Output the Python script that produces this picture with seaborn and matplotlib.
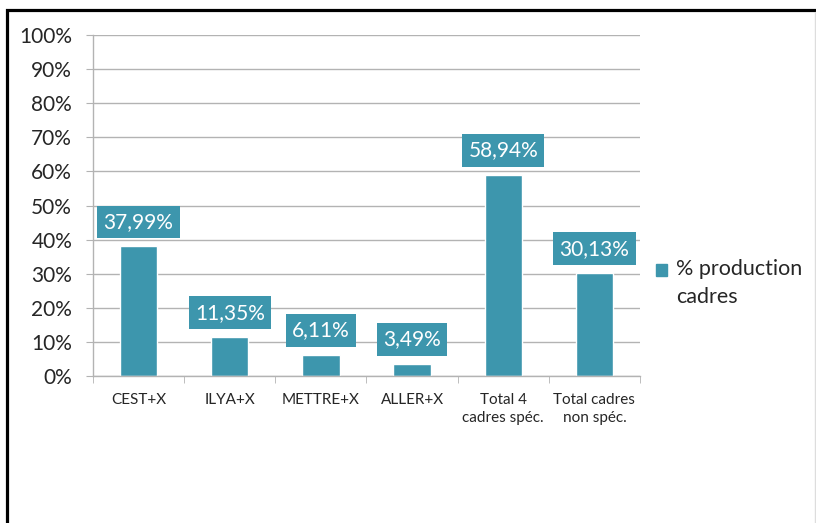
import matplotlib
matplotlib.use("Agg")
import matplotlib.pyplot as plt
import matplotlib.patches as mpatches
from matplotlib.legend_handler import HandlerPatch
import seaborn as sns
import pandas as pd

categories = ["CEST+X", "ILYA+X", "METTRE+X", "ALLER+X", "Total 4\ncadres spéc.", "Total cadres\nnon spéc."]
values = [37.99, 11.35, 6.11, 3.49, 58.94, 30.13]
value_labels = ["37,99%", "11,35%", "6,11%", "3,49%", "58,94%", "30,13%"]
yticks = [0, 10, 20, 30, 40, 50, 60, 70, 80, 90, 100]
series_name = "% production\ncadres"

teal = "#3d96ad"
grid_col = "#b3b3b3"

sns.set_style("white")
plt.rcParams['font.family'] = ['Lato', 'DejaVu Sans']

df = pd.DataFrame({"cat": categories, "val": values})

fig = plt.figure(figsize=(8.16, 5.23), dpi=100)
ax = fig.add_axes([93/816, 1 - 376/523, (640 - 93)/816, (376 - 35)/523])

sns.barplot(data=df, x="cat", y="val", color=teal, width=0.41, ax=ax, saturation=1)

ax.set_ylim(0, 100)
ax.set_xlim(-0.5, len(categories) - 0.5)
ax.set_yticks(yticks)
ax.set_yticklabels([f"{t}%" for t in yticks], fontsize=15)
ax.yaxis.grid(True, color=grid_col, lw=1)
ax.set_axisbelow(True)
ax.set_xlabel("")
ax.set_ylabel("")

for s in ["top", "right"]:
    ax.spines[s].set_visible(False)
for s in ["left", "bottom"]:
    ax.spines[s].set_color(grid_col)
    ax.spines[s].set_linewidth(1)

ax.tick_params(axis="y", length=5, color=grid_col, left=True, pad=10)
# x ticks at boundaries between categories
ax.set_xticks([i + 0.5 for i in range(-1, len(categories))], minor=True)
ax.tick_params(axis="x", which="minor", length=5, color=grid_col, bottom=True)
ax.tick_params(axis="x", which="major", length=0, pad=12)
ax.set_xticklabels(categories, fontsize=11, linespacing=1.4)

for i, (v, lab) in enumerate(zip(values, value_labels)):
    ax.annotate(lab, xy=(i, v), xytext=(0, 10.5), textcoords="offset points",
                ha="center", va="bottom", color="white", fontsize=15,
                bbox=dict(boxstyle="square,pad=0.3", fc=teal, ec="none"))


# legend square sits next to the first line of the label
def top_square(legend, orig_handle, xdescent, ydescent, width, height, fontsize):
    return mpatches.Rectangle((-xdescent, -ydescent + 0.62 * fontsize), width, height)


handle = mpatches.Patch(color=teal, label=series_name)
leg = fig.legend(handles=[handle], loc="center left", bbox_to_anchor=(637/816, 1 - 283/523),
                 frameon=False, fontsize=15.5, handlelength=0.48, handleheight=0.48,
                 handletextpad=0.45, labelspacing=0.2,
                 handler_map={mpatches.Patch: HandlerPatch(patch_func=top_square)})
for t in leg.get_texts():
    t.set_linespacing(1.45)

# outer frame
fig.add_artist(mpatches.Rectangle((6.5/816, -0.1), 2, 1 - 10.5/523 + 0.1,
                                  transform=fig.transFigure, fill=False,
                                  ec="black", lw=2.3))
fig.add_artist(plt.Line2D([815/816, 815/816], [0, 1 - 12/523], transform=fig.transFigure,
                          color="#dddddd", lw=1))

fig.savefig("out.png", dpi=100)
